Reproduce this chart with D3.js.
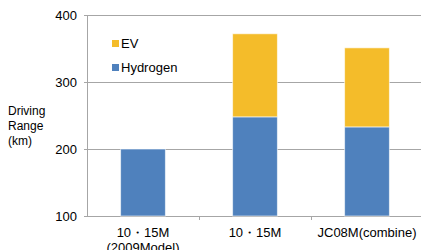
<!DOCTYPE html>
<html>
<head>
<meta charset="utf-8">
<script src="https://cdn.jsdelivr.net/npm/d3@7"></script>
<style>
  body { margin: 0; background: #fff; }
  text { font-family: "Liberation Sans", Arial, sans-serif; fill: #000; }
</style>
</head>
<body>
<div id="chart"></div>
<script>
// chart values
var categories = ["10・15M\n(2009Model)", "10・15M", "JC08M(combine)"];
var hydrogen = [200, 248, 233];
var ev = [0, 124, 118];
var yTicks = [100, 200, 300, 400];
var seriesNames = ["EV", "Hydrogen"];
var colors = { "EV": "#F4BC2A", "Hydrogen": "#4F81BD" };

var width = 421, height = 250;
var margin = { top: 15, right: -2, bottom: 34, left: 87 };

var svg = d3.select("#chart")
  .append("svg")
  .attr("width", width)
  .attr("height", height);

var x = d3.scaleBand()
  .domain(d3.range(categories.length))
  .range([margin.left, width - margin.right])
  .paddingInner(0.6)
  .paddingOuter(0.3);

var xOuter = d3.scaleBand()
  .domain(d3.range(categories.length))
  .range([margin.left, width - margin.right]);

var y = d3.scaleLinear()
  .domain([100, 400])
  .range([height - margin.bottom, margin.top]);

// gridlines
svg.append("g")
  .selectAll("line")
  .data(yTicks)
  .enter()
  .append("line")
  .attr("x1", margin.left - 3)
  .attr("x2", width)
  .attr("y1", function(d) { return Math.round(y(d)) + 0.5; })
  .attr("y2", function(d) { return Math.round(y(d)) + 0.5; })
  .attr("stroke", "#a6a6a6")
  .attr("stroke-width", 1);

// y tick labels
svg.append("g")
  .selectAll("text")
  .data(yTicks)
  .enter()
  .append("text")
  .attr("x", 77)
  .attr("y", function(d) { return y(d) + 4.5; })
  .attr("text-anchor", "end")
  .style("font-size", "13px")
  .text(function(d) { return d; });

// left axis line
svg.append("line")
  .attr("x1", margin.left + 0.5)
  .attr("x2", margin.left + 0.5)
  .attr("y1", y(400))
  .attr("y2", y(100))
  .attr("stroke", "#a6a6a6");

// category tick marks
svg.append("g")
  .selectAll("line")
  .data(d3.range(1, categories.length))
  .enter()
  .append("line")
  .attr("x1", function(d) { return Math.round(xOuter(d)) + 0.5; })
  .attr("x2", function(d) { return Math.round(xOuter(d)) + 0.5; })
  .attr("y1", y(100))
  .attr("y2", y(100) + 4)
  .attr("stroke", "#a6a6a6");

// stacked bars
var rows = categories.map(function(c, i) {
  return { i: i, Hydrogen: hydrogen[i], EV: ev[i] };
});
var stack = d3.stack().keys(["Hydrogen", "EV"]);
var layers = stack(rows);

svg.append("g")
  .selectAll("g")
  .data(layers)
  .enter()
  .append("g")
  .attr("fill", function(d) { return colors[d.key]; })
  .selectAll("rect")
  .data(function(d) { return d.filter(function(p) { return p[1] > p[0]; }); })
  .enter()
  .append("rect")
  .attr("x", function(d) { return x(d.data.i); })
  .attr("width", x.bandwidth())
  .attr("y", function(d) { return y(d[1]); })
  .attr("height", function(d) {
    return y(Math.max(d[0], 100)) - y(d[1]);
  })
  .attr("stroke", "#fff")
  .attr("stroke-opacity", 0.6)
  .attr("stroke-width", 1);

// x labels
svg.append("g")
  .selectAll("text")
  .data(categories)
  .enter()
  .append("text")
  .attr("x", function(d, i) { return xOuter(i) + xOuter.bandwidth() / 2; })
  .attr("y", y(100) + 21)
  .attr("text-anchor", "middle")
  .style("font-size", "13px")
  .each(function(d) {
    var lines = d.split("\n");
    var t = d3.select(this);
    lines.forEach(function(l, k) {
      t.append("tspan")
        .attr("x", t.attr("x"))
        .attr("dy", k === 0 ? 0 : 15)
        .text(l);
    });
  });

// legend
var legend = svg.append("g")
  .selectAll("g")
  .data(seriesNames)
  .enter()
  .append("g")
  .attr("transform", function(d, i) { return "translate(112," + (40 + i * 24) + ")"; });

legend.append("rect")
  .attr("width", 7)
  .attr("height", 7)
  .attr("fill", function(d) { return colors[d]; });

legend.append("text")
  .attr("x", 9)
  .attr("y", 8)
  .style("font-size", "13px")
  .text(function(d) { return d; });

// y axis title
svg.append("text")
  .attr("x", 8)
  .attr("y", 115)
  .style("font-size", "12px")
  .selectAll("tspan")
  .data(["Driving", "Range", "(km)"])
  .enter()
  .append("tspan")
  .attr("x", 8)
  .attr("dy", function(d, i) { return i === 0 ? 0 : 15; })
  .text(function(d) { return d; });
</script>
</body>
</html>
